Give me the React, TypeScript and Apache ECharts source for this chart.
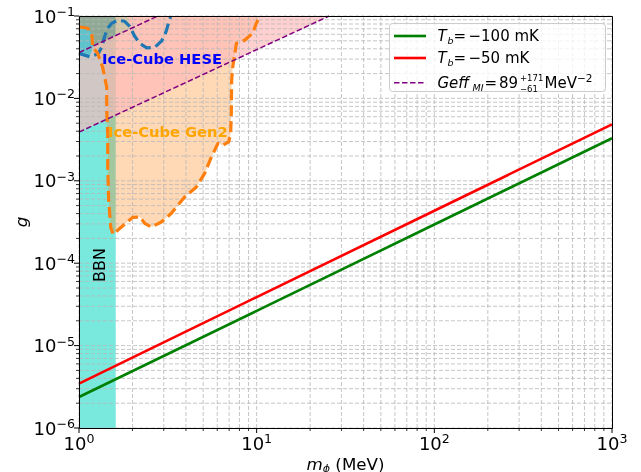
import React, { useEffect, useRef } from 'react';
import * as echarts from 'echarts';

const FONT = '"DejaVu Sans", sans-serif';

// Axis ranges and ticks
const xRange = [1, 1000];
const yRange = [1e-6, 0.1];
const xMajor = [1, 10, 100, 1000];
const yMajor = [1e-6, 1e-5, 1e-4, 1e-3, 1e-2, 1e-1];
const xMinor = [2, 3, 4, 5, 6, 7, 8, 9, 20, 30, 40, 50, 60, 70, 80, 90, 200, 300, 400, 500, 600, 700, 800, 900];
const yMinor = [
  2e-6, 3e-6, 4e-6, 5e-6, 6e-6, 7e-6, 8e-6, 9e-6,
  2e-5, 3e-5, 4e-5, 5e-5, 6e-5, 7e-5, 8e-5, 9e-5,
  2e-4, 3e-4, 4e-4, 5e-4, 6e-4, 7e-4, 8e-4, 9e-4,
  2e-3, 3e-3, 4e-3, 5e-3, 6e-3, 7e-3, 8e-3, 9e-3,
  2e-2, 3e-2, 4e-2, 5e-2, 6e-2, 7e-2, 8e-2, 9e-2,
];

// T_b lines
const lineMass = [1, 10, 100, 1000];
const gTb100 = [2.38e-6, 2.64e-5, 2.95e-4, 3.28e-3];
const gTb50 = [3.46e-6, 3.88e-5, 4.33e-4, 4.85e-3];

// Geff_MI band edges
const geffLowMass = [1, 25.6];
const geffLowG = [0.0039, 0.1];
const geffHighMass = [1, 2.78];
const geffHighG = [0.036, 0.1];

// BBN excluded mass range
const bbnMass = [1, 1.61];

// Ice-Cube Gen2 contour
const gen2Mass = [1.0, 1.009, 1.119, 1.179, 1.194, 1.274, 1.359, 1.432, 1.432, 1.451, 1.451, 1.469, 1.508, 1.554, 1.733, 2.005, 2.196, 2.343, 2.556, 2.909, 3.311, 3.934, 4.578, 5.098, 5.56, 6.06, 6.44, 6.96, 7.14, 7.2, 7.23, 7.33, 7.69, 8.56, 9.5, 9.96, 10.4];
const gen2G = [0.074, 0.0736, 0.071, 0.0617, 0.0417, 0.0352, 0.0238, 0.01365, 0.00718, 0.00377, 0.00146, 5.79e-4, 2.73e-4, 2.25e-4, 2.75e-4, 3.6e-4, 3.64e-4, 3.05e-4, 2.75e-4, 3.16e-4, 4.04e-4, 6.35e-4, 8.41e-4, 1.23e-3, 1.95e-3, 2.85e-3, 2.7e-3, 2.96e-3, 3.77e-3, 6.6e-3, 0.0166, 0.0238, 0.0467, 0.0507, 0.0617, 0.0815, 0.1];

// Ice-Cube HESE contour
const heseMass = [1.0, 1.149, 1.282, 1.342, 1.395, 1.451, 1.528, 1.651, 1.807, 1.929, 2.058, 2.196, 2.404, 2.667, 2.921, 3.095, 3.198, 3.281];
const heseG = [0.0352, 0.032, 0.0348, 0.0417, 0.0568, 0.071, 0.0815, 0.0887, 0.0863, 0.075, 0.0568, 0.0467, 0.0411, 0.0417, 0.05, 0.0652, 0.084, 0.099];

// overlapping shaded patches in the top-left corner
const darkMass = [1, 1.61, 1.61, 1];
const darkG = [0.036, 0.058, 0.1, 0.1];
const tanMass = [1.61, 1.95, 1.88, 1.61];
const tanG = [0.058, 0.0702, 0.1, 0.1];
const patchMass = [1, 1.063, 1.119, 1.164, 1.187, 1.194, 1.179, 1.149, 1];
const patchG = [0.072, 0.072, 0.0699, 0.0634, 0.0507, 0.0417, 0.0373, 0.033, 0.0352];

const zip = (a: number[], b: number[]) => a.map((v, i) => [v, b[i]]);

const polygonSeries = (pts: number[][], fill: string, z: number) => ({
  type: 'custom',
  coordinateSystem: 'cartesian2d',
  silent: true,
  z,
  data: [pts[0]],
  renderItem: (_p: any, api: any) => ({
    type: 'polygon',
    shape: { points: pts.map((p) => api.coord(p)) },
    style: { fill, stroke: null },
  }),
});

const supText = (v: number) => {
  const e = Math.round(Math.log10(v));
  return e < 0 ? '\u2212' + Math.abs(e) : String(e);
};

export default function App() {
  const ref = useRef<HTMLDivElement>(null);
  useEffect(() => {
    if (!ref.current) return;
    const chart = echarts.init(ref.current, null, { renderer: 'svg' });
    const gridColor = '#b8b8b8';
    const labelRich = {
      b: { fontSize: 18, lineHeight: 22, fontFamily: FONT, color: '#000' },
      s: { fontSize: 12.6, lineHeight: 12, verticalAlign: 'top', fontFamily: FONT, color: '#000' },
    };
    const vGrid = [...xMajor.map((v) => [v, yRange[0], 1]), ...xMinor.map((v) => [v, yRange[0], 0])];
    const hGrid = [...yMajor.map((v) => [xRange[0], v, 1]), ...yMinor.map((v) => [xRange[0], v, 0])];

    chart.setOption({
      animation: false,
      grid: { left: 79, right: 29, top: 16, bottom: 44, show: false },
      xAxis: {
        type: 'log', logBase: 10, min: xRange[0], max: xRange[1],
        axisLine: { show: false }, axisTick: { show: false }, splitLine: { show: false },
        axisLabel: {
          margin: 4, showMinLabel: true, showMaxLabel: true, fontFamily: FONT,
          formatter: (v: number) => `{b|10}{s|${supText(v)}}`, rich: labelRich,
        },
      },
      yAxis: {
        type: 'log', logBase: 10, min: yRange[0], max: yRange[1],
        axisLine: { show: false }, axisTick: { show: false }, splitLine: { show: false },
        axisLabel: {
          margin: 4, showMinLabel: true, showMaxLabel: true, fontFamily: FONT,
          formatter: (v: number) => `{b|10}{s|${supText(v)}}`, rich: labelRich,
        },
      },
      series: [
        polygonSeries(
          [[bbnMass[0], yRange[0]], [bbnMass[1], yRange[0]], [bbnMass[1], yRange[1]], [bbnMass[0], yRange[1]]],
          'rgba(64,224,208,0.7)', 1),
        polygonSeries([...zip(gen2Mass, gen2G), [xRange[0], yRange[1]]], 'rgba(255,127,14,0.3)', 1),
        polygonSeries([...zip(geffLowMass, geffLowG), [xRange[0], yRange[1]]], 'rgba(255,184,184,0.66)', 1),
        polygonSeries(zip(darkMass, darkG), '#8fa995', 1),
        polygonSeries(zip(tanMass, tanG), '#d8c7a6', 1),
        polygonSeries(zip(patchMass, patchG), '#5fc2cd', 1),
        {
          type: 'custom', coordinateSystem: 'cartesian2d', silent: true, z: 2, data: vGrid,
          renderItem: (_p: any, api: any) => {
            const v = api.value(0);
            const major = api.value(2) === 1;
            const b = api.coord([v, yRange[0]]);
            const t = api.coord([v, yRange[1]]);
            return {
              type: 'group', children: [
                { type: 'line', shape: { x1: b[0], y1: b[1], x2: t[0], y2: t[1] }, style: { stroke: gridColor, lineWidth: 0.8, lineDash: [4, 2] } },
                { type: 'line', shape: { x1: b[0], y1: b[1], x2: b[0], y2: b[1] + (major ? 5 : 3) }, style: { stroke: '#000', lineWidth: major ? 1 : 0.8 } },
              ],
            };
          },
        },
        {
          type: 'custom', coordinateSystem: 'cartesian2d', silent: true, z: 2, data: hGrid,
          renderItem: (_p: any, api: any) => {
            const v = api.value(1);
            const major = api.value(2) === 1;
            const l = api.coord([xRange[0], v]);
            const r = api.coord([xRange[1], v]);
            return {
              type: 'group', children: [
                { type: 'line', shape: { x1: l[0], y1: l[1], x2: r[0], y2: r[1] }, style: { stroke: gridColor, lineWidth: 0.8, lineDash: [4, 2] } },
                { type: 'line', shape: { x1: l[0], y1: l[1], x2: l[0] - (major ? 5 : 3), y2: l[1] }, style: { stroke: '#000', lineWidth: major ? 1 : 0.8 } },
              ],
            };
          },
        },
        {
          type: 'line', data: zip(heseMass, heseG), symbol: 'none', silent: true, z: 4,
          lineStyle: { color: '#1f77b4', width: 3.2, type: [11, 5] },
        },
        {
          type: 'line', data: zip(gen2Mass, gen2G), symbol: 'none', silent: true, z: 4,
          lineStyle: { color: '#ff7f0e', width: 3.2, type: [11, 5] },
        },
        {
          type: 'line', data: zip(geffLowMass, geffLowG), symbol: 'none', silent: true, z: 5,
          lineStyle: { color: '#800080', width: 1.5, type: [5.5, 2.5] },
        },
        {
          type: 'line', data: zip(geffHighMass, geffHighG), symbol: 'none', silent: true, z: 5,
          lineStyle: { color: '#800080', width: 1.5, type: [5.5, 2.5] },
        },
        {
          type: 'line', data: zip(lineMass, gTb100), symbol: 'none', silent: true, z: 6,
          lineStyle: { color: '#008000', width: 2.6 },
        },
        {
          type: 'line', data: zip(lineMass, gTb50), symbol: 'none', silent: true, z: 6,
          lineStyle: { color: '#ff0000', width: 2.6 },
        },
      ],
    });

    const tl = chart.convertToPixel({ gridIndex: 0 }, [xRange[0], yRange[1]]) as number[];
    const br = chart.convertToPixel({ gridIndex: 0 }, [xRange[1], yRange[0]]) as number[];

    const txt = (x: number, y: number, text: string, size: number, extra: any = {}) => ({
      type: 'text', x, y, z: 120,
      style: {
        text, fill: extra.fill || '#000', fontSize: size, fontFamily: FONT,
        fontStyle: extra.italic ? 'italic' : 'normal', fontWeight: extra.bold ? 'bold' : 'normal',
        align: extra.align || 'left', textAlign: extra.align || 'left',
        verticalAlign: 'middle', textVerticalAlign: 'middle',
      },
      rotation: extra.rotation || 0,
    });

    const legendRows = [
      { y: 36, color: '#008000', value: '\u2212100 mK' },
      { y: 58, color: '#ff0000', value: '\u221250 mK' },
    ];

    const graphics: any[] = [
      {
        type: 'rect', z: 100,
        shape: { x: Math.round(tl[0]) + 0.5, y: Math.round(tl[1]) + 0.5, width: Math.round(br[0] - tl[0]), height: Math.round(br[1] - tl[1]) },
        style: { fill: 'none', stroke: '#000', lineWidth: 1 },
      },
      {
        type: 'rect', z: 110,
        shape: { x: 389.5, y: 23.5, width: 216, height: 68, r: 3 },
        style: { fill: 'rgba(255,255,255,0.8)', stroke: '#cccccc', lineWidth: 1 },
      },
      ...legendRows.flatMap((r) => [
        { type: 'line', z: 120, shape: { x1: 394, y1: r.y, x2: 426, y2: r.y }, style: { stroke: r.color, lineWidth: 2.6 } },
        txt(437.5, r.y, 'T', 15, { italic: true }),
        txt(447.5, r.y + 4, 'b', 9.5, { italic: true }),
        txt(453.5, r.y, '=', 15),
        txt(468.5, r.y, r.value, 15),
      ]),
      { type: 'line', z: 120, shape: { x1: 394, y1: 82.7, x2: 426, y2: 82.7 }, style: { stroke: '#800080', lineWidth: 1.5, lineDash: [5.5, 2.5] } },
      txt(437.5, 82.7, 'Geff', 15, { italic: true }),
      txt(472.5, 87, 'MI', 9.5, { italic: true }),
      txt(484.5, 82.7, '=', 15),
      txt(499, 82.7, '89', 15),
      txt(520, 77.5, '+171', 8.5),
      txt(520, 88.5, '\u221261', 8.5),
      txt(544.5, 82.7, 'MeV', 15),
      txt(577, 77.5, '\u22122', 10.5),
      // annotations
      txt(102, 58, 'Ice-Cube HESE', 14.7, { bold: true, fill: '#0000ff' }),
      txt(108, 131, 'Ice-Cube Gen2', 14.7, { bold: true, fill: '#ffa500' }),
      txt(99, 265, 'BBN', 16, { align: 'center', rotation: Math.PI / 2 }),
      // axis titles
      txt(21, (tl[1] + br[1]) / 2, 'g', 16.7, { italic: true, align: 'center', rotation: Math.PI / 2 }),
      {
        type: 'text', z: 120, x: (tl[0] + br[0]) / 2, y: 463.5,
        style: {
          text: '{i|m}{sub|\u03d5}{n| (MeV)}', align: 'center', textAlign: 'center', verticalAlign: 'middle', textVerticalAlign: 'middle',
          rich: {
            i: { fontSize: 16.7, fontStyle: 'italic', fontFamily: FONT, lineHeight: 20, fill: '#000' },
            sub: { fontSize: 11, fontStyle: 'italic', fontFamily: FONT, lineHeight: 11, verticalAlign: 'bottom', fill: '#000' },
            n: { fontSize: 16.7, fontFamily: FONT, lineHeight: 20, fill: '#000' },
          },
        },
      },
    ];
    chart.setOption({ graphic: graphics });

    return () => chart.dispose();
  }, []);

  return <div ref={ref} style={{ position: 'fixed', left: 0, top: 0, width: 641, height: 472 }} />;
}
